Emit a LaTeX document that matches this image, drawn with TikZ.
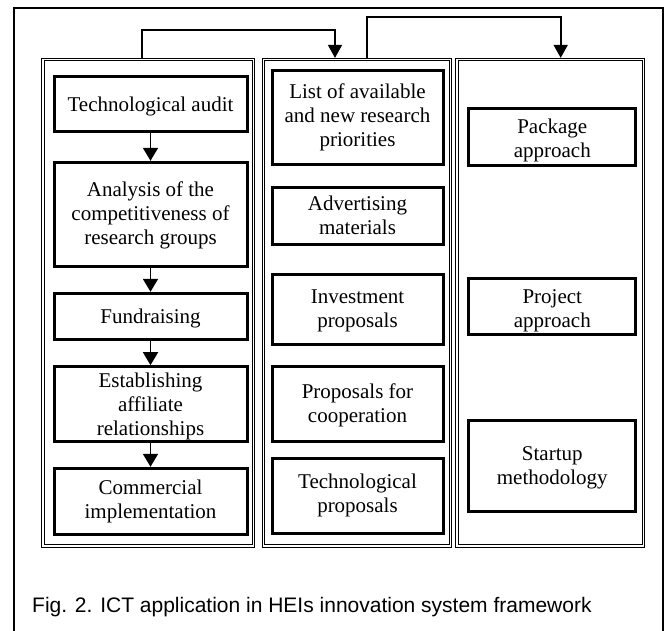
\documentclass[tikz,border=0pt]{standalone}
\usepackage{fontspec}
\setmainfont{Liberation Serif}
\newfontfamily\capfont{Liberation Sans}
\usetikzlibrary{arrows.meta}
\begin{document}
\begin{tikzpicture}[x=1pt,y=-1pt,
  colbox/.style={draw, line width=1pt, double, double distance=1.2pt, inner sep=0pt, outer sep=1.6pt, minimum height=486.5pt},
  stepbox/.style={draw, line width=3pt, inner sep=0pt, outer sep=1.5pt},
  txt/.style={align=center, inner sep=0pt, font=\fontsize{21}{24}\selectfont, execute at begin node=\strut, execute at end node=\strut},
  flow/.style={line width=1.7pt, -{Triangle[length=13pt,width=15pt]}},
  conn/.style={line width=1.6pt, -{Triangle[length=13pt,width=14pt]}},
  frame/.style={line width=1.6pt}]
\useasboundingbox (0,0) rectangle (665,631);
% outer frame
\draw[frame] (13.7,640) -- (13.7,8.3) -- (662.8,8.3) -- (662.8,640);
% columns
\node[colbox, minimum width=210.8pt] (c1) at (148.4,302.75) {};
\node[colbox, minimum width=187.1pt] (c2) at (356.95,302.75) {};
\node[colbox, minimum width=186.8pt] (c3) at (550.4,302.75) {};
% left column boxes
\node[stepbox, minimum width=193pt, minimum height=55pt]   (L1) at (150.5,104.2) {};
\node[stepbox, minimum width=193pt, minimum height=104.4pt] (L2) at (150.5,214.5) {};
\node[stepbox, minimum width=193pt, minimum height=45.9pt] (L3) at (150.5,316.25) {};
\node[stepbox, minimum width=193pt, minimum height=75pt]   (L4) at (150.5,404.2) {};
\node[stepbox, minimum width=193pt, minimum height=66pt]   (L5) at (150.5,501.3) {};
\node[txt] (L1t) at (150.5,106.9) {Technological audit};
\node[txt] (L2t) at (150.5,216.5) {Analysis of the\\competitiveness of\\research groups};
\node[txt] (L3t) at (150.5,319.2) {Fundraising};
\node[txt] (L4t) at (150.5,407.9) {Establishing\\affiliate\\relationships};
\node[txt] (L5t) at (150.5,503.2) {Commercial\\implementation};
% middle column boxes
\node[stepbox, minimum width=171pt, minimum height=94pt]  (M1) at (357.5,118) {};
\node[stepbox, minimum width=171pt, minimum height=56.6pt] (M2) at (357.5,216) {};
\node[stepbox, minimum width=171pt, minimum height=70pt]  (M3) at (357.5,309.3) {};
\node[stepbox, minimum width=171pt, minimum height=75pt]  (M4) at (357.5,404.2) {};
\node[stepbox, minimum width=171pt, minimum height=75pt]  (M5) at (357.5,495.8) {};
\node[txt] (M1t) at (357.5,119.2) {List of available\\and new research\\priorities};
\node[txt] (M2t) at (357.5,218.9) {Advertising\\materials};
\node[txt] (M3t) at (357.5,312.2) {Investment\\proposals};
\node[txt] (M4t) at (357.5,406.5) {Proposals for\\cooperation};
\node[txt] (M5t) at (357.5,497.2) {Technological\\proposals};
% right column boxes
\node[stepbox, minimum width=166.7pt, minimum height=57.4pt] (R1) at (552.3,137) {};
\node[stepbox, minimum width=166.7pt, minimum height=56.7pt] (R2) at (552.3,306.65) {};
\node[stepbox, minimum width=166.7pt, minimum height=90pt]   (R3) at (552.3,466) {};
\node[txt] (R1t) at (552.3,142) {Package\\approach};
\node[txt] (R2t) at (552.3,312.5) {Project\\approach};
\node[txt] (R3t) at (552.3,468.9) {Startup\\methodology};
% flow arrows in left column
\draw[flow] (L1) -- (L2);
\draw[flow] (L2) -- (L3);
\draw[flow] (L3) -- (L4);
\draw[flow] (L4) -- (L5);
% connectors between columns
\coordinate (k1) at (141.7,30);
\coordinate (k2) at (335,30);
\coordinate (k3) at (366.7,17.3);
\coordinate (k4) at (560.7,17.3);
\draw[conn] (c1.north -| k1) |- (k2) -- (c2.north -| k2);
\draw[conn] (c2.north -| k3) |- (k4) -- (c3.north -| k4);
% caption
\node[anchor=base west, inner sep=0pt, font=\capfont\fontsize{21}{24}\selectfont] (cap) at (32,612) {Fig. 2. ICT application in HEIs innovation system framework};
\end{tikzpicture}
\end{document}
